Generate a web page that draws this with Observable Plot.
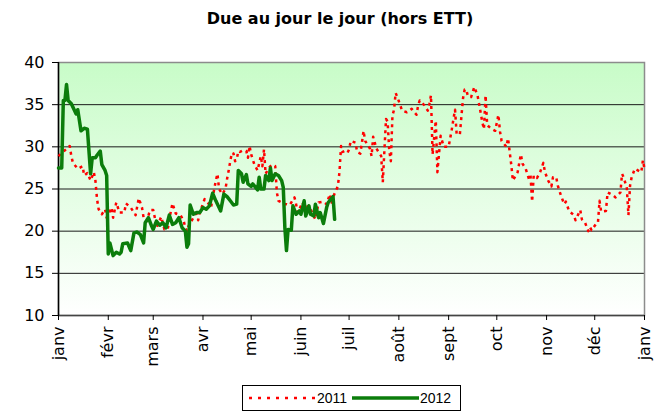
<!DOCTYPE html>
<html><head><meta charset="utf-8">
<script src="https://cdn.jsdelivr.net/npm/d3@7"></script>
<script src="https://cdn.jsdelivr.net/npm/@observablehq/plot@0.6"></script>
<style>
body{margin:0;background:#fff;}
#wrap{position:relative;width:654px;height:411px;overflow:hidden;font-family:"DejaVu Sans",sans-serif;}
#title{position:absolute;top:9px;left:0;width:680px;text-align:center;font-weight:bold;font-size:16px;color:#000;}
#chart{position:absolute;left:0;top:0;}
#legend{position:absolute;left:242px;top:385px;width:217px;height:24px;border:1px solid #000;background:#fff;}
</style></head><body>
<div id="wrap">
<div id="chart"></div>
<div id="title">Due au jour le jour (hors ETT)</div>
<div id="legend"></div>
</div>
<script>
const monthDays = [0,31,59,90,120,151,181,212,243,273,304,334,365];
const monthLabels = ["janv","févr","mars","avr","mai","juin","juil","août","sept","oct","nov","déc","janv"];
const yTicks = [10,15,20,25,30,35,40];
const seriesNames = ["2011","2012"];

const days2011 = [0,4,7,8,9,12,15,16,18,20,21,22,23,24,25,27,29,30,33,34,36,38,41,42,45,48,49,50,52,53,55,57,59,60,61,64,66,68,70,71,73,76,78,79,80,81,84,85,87,88,91,93,95,97,98,99,100,102,104,105,106,107,108,109,110,111,112,113,115,117,118,119,120,122,124,126,127,128,129,131,133,135,136,137,139,141,142,144,147,148,149,152,153,156,158,160,162,165,167,169,170,172,174,175,176,177,178,180,181,182,185,186,188,189,190,191,194,195,196,197,198,201,202,203,204,205,206,207,208,209,210,212,214,217,220,223,224,225,228,230,231,232,233,235,236,238,240,243,245,246,247,248,250,251,252,253,254,255,257,259,261,263,264,265,266,267,268,270,272,274,275,276,279,280,282,283,286,287,288,289,291,293,294,295,296,298,300,302,303,305,307,308,310,311,313,315,316,318,321,322,325,326,328,330,331,332,335,336,337,338,341,342,345,347,350,351,352,354,355,356,357,359,363,364,365];
const values2011 = [28.9,29.6,30.1,28.9,28.1,27.4,27.7,26.6,26.9,26.0,26.5,27.0,26.0,23.8,22.6,22.0,22.6,21.6,22.8,21.6,23.4,22.2,22.2,23.3,22.8,21.9,22.9,23.9,22.8,21.6,21.2,22.5,22.5,21.6,20.4,21.7,20.2,20.2,22.4,23.3,22.1,21.9,21.2,20.4,20.0,20.6,21.6,22.5,21.3,22.2,23.8,23.4,22.8,25.0,26.0,26.8,25.0,24.4,25.0,26.2,27.2,28.3,29.3,29.2,28.3,28.5,29.5,29.4,29.6,29.5,28.7,30.1,29.1,27.9,27.2,28.9,27.7,29.7,26.8,27.5,27.9,27.7,24.6,23.6,23.4,23.2,23.2,23.1,24.0,23.2,22.2,23.4,22.8,23.0,22.2,21.4,23.4,23.5,23.2,24.4,23.4,24.5,25.3,27.0,30.1,29.4,29.5,29.3,29.7,30.7,30.5,29.4,29.2,30.5,31.9,30.7,29.8,28.9,31.2,30.5,29.8,28.9,25.8,29.6,33.3,33.0,29.6,28.3,33.7,34.4,36.4,35.4,34.3,34.1,34.5,33.8,34.9,35.5,34.9,34.3,35.1,36.1,29.1,33.1,27.0,31.3,30.0,30.0,32.1,33.3,34.4,31.5,31.5,33.7,35.8,36.8,36.8,36.0,35.9,37.1,36.1,34.0,32.9,32.1,36.1,32.6,32.4,32.1,31.9,33.8,31.8,30.7,30.0,31.0,27.9,26.0,27.0,28.1,29.1,28.0,27.4,26.2,26.6,23.5,26.6,26.3,27.0,28.1,27.0,26.0,25.3,26.4,26.4,25.4,24.2,23.2,23.5,22.4,21.9,21.3,22.5,21.4,21.0,20.0,20.5,20.1,20.9,21.0,23.6,22.3,22.4,24.6,24.3,24.0,24.6,26.8,26.4,25.1,21.9,25.4,26.4,27.4,27.0,28.4,27.4];

const days2012 = [0,2,3,4,5,6,8,11,12,14,16,18,20,21,23,24,26,27,29,30,31,32,34,36,38,39,40,43,45,47,49,51,53,54,56,58,59,61,63,65,67,69,71,73,75,77,79,80,81,82,84,86,88,90,92,94,96,98,100,101,103,105,107,109,111,112,114,115,117,118,120,121,124,125,126,128,129,131,132,133,135,137,139,140,141,142,143,145,146,148,150,151,153,154,156,157,159,160,162,163,165,167,168,171,172];
const values2012 = [27.5,27.5,35.5,35.5,37.4,35.5,35.1,33.9,34.4,31.9,32.2,32.1,26.8,28.7,28.7,29.0,29.5,27.9,27.2,26.6,17.3,18.6,17.1,17.5,17.3,17.5,18.5,18.6,17.7,19.8,19.9,19.6,18.6,21.0,21.6,20.6,20.2,21.2,20.7,21.0,20.4,21.9,20.8,21.0,21.6,20.4,20.0,18.1,18.5,23.1,22.0,22.2,22.2,22.8,22.6,23.0,24.5,23.6,22.8,22.4,24.4,24.1,23.6,23.1,23.2,27.2,26.8,25.8,26.7,25.6,25.3,25.6,24.9,26.4,25.0,25.0,26.6,26.0,27.5,26.0,26.8,26.6,26.0,25.2,20.4,17.7,20.2,20.1,23.0,22.0,22.4,22.0,23.6,21.8,23.0,22.0,21.8,23.2,21.6,22.2,20.9,22.8,23.4,24.1,21.4];

const data2011 = days2011.map((d,i)=>({day:d, value:values2011[i], year:seriesNames[0]}));
const data2012 = days2012.map((d,i)=>({day:d, value:values2012[i], year:seriesNames[1]}));

const red = "#ff0000", green = "#0b7d0b";

const plot = Plot.plot({
  width: 654, height: 411,
  marginLeft: 58, marginRight: 10, marginTop: 62, marginBottom: 96,
  style: {fontFamily: "DejaVu Sans, sans-serif", background: "transparent", color: "#000"},
  x: {domain: [0, 365]},
  y: {domain: [10, 40]},
  marks: [
    Plot.frame({fill: "url(#bgGrad)", stroke: null}),
    Plot.ruleY([15,20,25,30,35], {stroke: "#1a1a1a", strokeWidth: 1}),
    Plot.frame({stroke: "#8c8c8c", strokeWidth: 1.5}),
    Plot.ruleY([10], {stroke: "#444", strokeWidth: 1.5}),
    Plot.ruleX([0], {stroke: "#000", strokeWidth: 1.5}),
    Plot.axisY({ticks: yTicks, tickSize: 6, tickPadding: 8, fontSize: 16, label: null}),
    Plot.axisX({ticks: monthDays, tickFormat: d => monthLabels[monthDays.indexOf(d)], tickRotate: -90, tickSize: 5, tickPadding: 6, fontSize: 16, label: null}),
    Plot.line(data2011, {x: "day", y: "value", stroke: red, strokeWidth: 2.5, strokeDasharray: "3,4", strokeLinecap: "butt"}),
    Plot.line(data2012, {x: "day", y: "value", stroke: green, strokeWidth: 3.5, strokeLinejoin: "round"})
  ]
});

const svg = d3.select(plot);
const defs = svg.insert("defs", ":first-child");
const grad = defs.append("linearGradient").attr("id", "bgGrad").attr("x1", 0).attr("y1", 0).attr("x2", 0).attr("y2", 1);
grad.append("stop").attr("offset", "0%").attr("stop-color", "#c8fcc8");
grad.append("stop").attr("offset", "100%").attr("stop-color", "#ffffff");
document.getElementById("chart").appendChild(plot);

// Legend
const lg = d3.select("#legend").append("svg").attr("width", 217).attr("height", 24);
lg.append("line").attr("x1", 6).attr("x2", 72).attr("y1", 12).attr("y2", 12)
  .attr("stroke", red).attr("stroke-width", 2.5).attr("stroke-dasharray", "3,6");
lg.append("text").attr("x", 74).attr("y", 17).text(seriesNames[0])
  .attr("font-family", "Liberation Sans, Arial, sans-serif").attr("font-size", 14);
lg.append("line").attr("x1", 109).attr("x2", 176).attr("y1", 12).attr("y2", 12)
  .attr("stroke", green).attr("stroke-width", 3.5);
lg.append("text").attr("x", 177).attr("y", 17).text(seriesNames[1])
  .attr("font-family", "Liberation Sans, Arial, sans-serif").attr("font-size", 14);
</script>
</body></html>
